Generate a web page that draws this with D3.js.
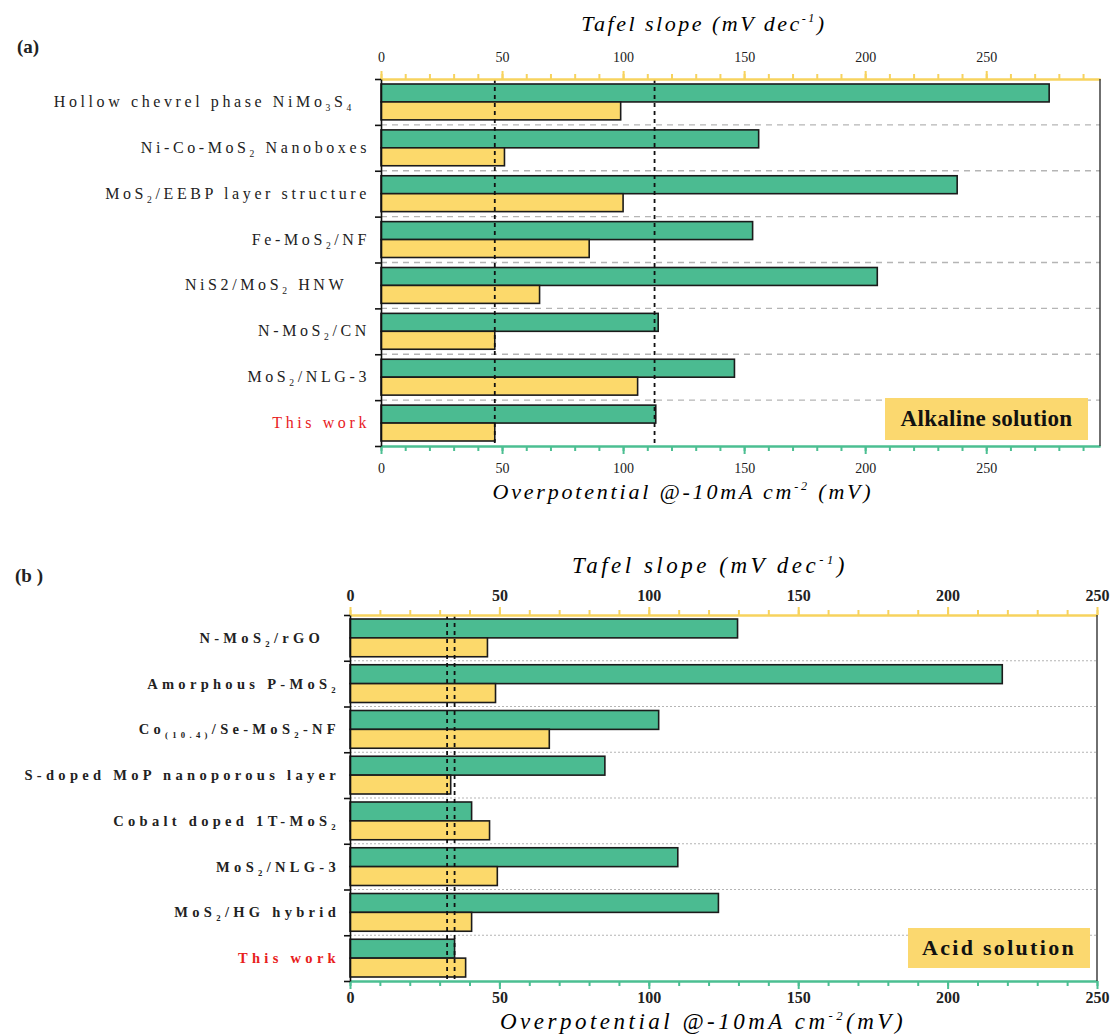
<!DOCTYPE html>
<html><head><meta charset="utf-8">
<script src="https://cdn.jsdelivr.net/npm/d3@7"></script>
<style>body{margin:0;background:#fff} svg{display:block}</style>
</head><body><svg id="c" width="1116" height="1034"></svg>
<script>
// ---------- data ----------
const categoriesA = [
  "Hollow chevrel phase NiMo_{3}S_{4}\u00a0\u00a0",
  "Ni-Co-MoS_{2} Nanoboxes",
  "MoS_{2}/EEBP layer structure",
  "Fe-MoS_{2}/NF",
  "NiS2/MoS_{2} HNW\u00a0\u00a0\u00a0",
  "N-MoS_{2}/CN",
  "MoS_{2}/NLG-3",
  "This work"
];
const tafelA = [276, 156, 238, 153.5, 205, 114.5, 146, 113.5];
const overA  = [99, 51, 100, 86, 65.5, 47, 106, 47];
const refLinesA = [47, 113];

const categoriesB = [
  "N-MoS_{2}/rGO\u00a0\u00a0",
  "Amorphous P-MoS_{2}",
  "Co_{(10.4)}/Se-MoS_{2}-NF",
  "S-doped MoP nanoporous layer",
  "Cobalt doped 1T-MoS_{2}",
  "MoS_{2}/NLG-3",
  "MoS_{2}/HG hybrid",
  "This work"
];
const tafelB = [129.7, 218.3, 103.3, 85.3, 40.7, 109.7, 123.3, 35];
const overB  = [46, 48.7, 66.7, 33.7, 46.7, 49.3, 40.7, 38.7];
const refLinesB = [32.5, 35];

const majorTicksA = [0, 50, 100, 150, 200, 250];
const majorTicksB = [0, 50, 100, 150, 200, 250];
const panelLabels = ["(a)", "(b )"];
const conditionLabels = ["Alkaline solution", "Acid solution"];
const topTitle = ["Tafel slope (mV dec", "-1", ")"];
const bottomTitleA = ["Overpotential @-10mA cm", "-2", " (mV)"];
const bottomTitleB = ["Overpotential @-10mA cm", "-2", "(mV)"];

// ---------- style / layout ----------
const FONT = "Liberation Serif";
const GREEN = "#4bbb91", YELLOW = "#fcd96b", GREEN_AX = "#4cbf92", YELLOW_AX = "#f7d35e";
const svg = d3.select("#c");

function richText(sel, str, subSize) {
  const parts = str.split(/_\{([^}]*)\}/);
  let pendingDy = 0;
  parts.forEach((p, i) => {
    if (!p) return;
    if (i % 2 === 1) {
      sel.append("tspan").attr("font-size", subSize).attr("dy", 4 + pendingDy).text(p);
      pendingDy = -4;
    } else {
      const t = sel.append("tspan").text(p);
      if (pendingDy) t.attr("dy", pendingDy);
      pendingDy = 0;
    }
  });
}

function panel(cfg) {
  const g = svg.append("g");
  const x = d3.scaleLinear().domain([0, cfg.max]).range([cfg.x0, cfg.x1]);
  const y = d3.scaleBand().domain(cfg.cats).range([cfg.y0, cfg.y1]);
  const bw = y.bandwidth();
  const pad = cfg.pad, bh = (bw - 2 * pad) / 2;
  const minor = d3.range(0, cfg.max + 0.01, 10);

  g.selectAll(".sep").data(cfg.cats.slice(1)).join("line")
    .attr("x1", cfg.x0).attr("x2", cfg.x1)
    .attr("y1", d => y(d)).attr("y2", d => y(d))
    .attr("stroke", "#b5b5b5").attr("stroke-width", cfg.sepW).attr("stroke-dasharray", cfg.sepDash);

  g.selectAll(".tb").data(cfg.cats).join("rect")
    .attr("x", x(0)).attr("y", d => y(d) + pad)
    .attr("width", (d, i) => x(cfg.tafel[i]) - x(0)).attr("height", bh)
    .attr("fill", GREEN).attr("stroke", "#1b1b1b").attr("stroke-width", 1.6);
  g.selectAll(".ob").data(cfg.cats).join("rect")
    .attr("x", x(0)).attr("y", d => y(d) + pad + bh)
    .attr("width", (d, i) => x(cfg.over[i]) - x(0)).attr("height", bh)
    .attr("fill", YELLOW).attr("stroke", "#1b1b1b").attr("stroke-width", 1.6);

  g.selectAll(".ref").data(cfg.refs).join("line")
    .attr("x1", d => x(d)).attr("x2", d => x(d))
    .attr("y1", cfg.y0).attr("y2", cfg.y1)
    .attr("stroke", "#111").attr("stroke-width", 1.8).attr("stroke-dasharray", "4,4");

  const topMinor = g.append("g").attr("transform", `translate(0,${cfg.y0})`)
    .call(d3.axisTop(x).tickValues(minor).tickSize(5).tickFormat("").tickSizeOuter(0));
  const topMajor = g.append("g").attr("transform", `translate(0,${cfg.y0})`)
    .call(d3.axisTop(x).tickValues(cfg.major).tickSize(8).tickPadding(cfg.topPad).tickSizeOuter(0));
  [topMinor, topMajor].forEach(a => {
    a.selectAll("path,line").attr("stroke", YELLOW_AX).attr("stroke-width", 2);
    a.attr("font-family", FONT);
  });
  topMajor.selectAll("text").attr("font-size", cfg.tickFs)
    .attr("font-weight", cfg.tickFw).attr("fill", "#222");

  const botMinor = g.append("g").attr("transform", `translate(0,${cfg.y1})`)
    .call(d3.axisBottom(x).tickValues(minor).tickSize(5).tickFormat("").tickSizeOuter(0));
  const botMajor = g.append("g").attr("transform", `translate(0,${cfg.y1})`)
    .call(d3.axisBottom(x).tickValues(cfg.major).tickSize(8).tickPadding(cfg.botPad).tickSizeOuter(0));
  [botMinor, botMajor].forEach(a => {
    a.selectAll("path,line").attr("stroke", GREEN_AX).attr("stroke-width", 2);
    a.attr("font-family", FONT);
  });
  botMajor.selectAll("text").attr("font-size", cfg.tickFs)
    .attr("font-weight", cfg.tickFw).attr("fill", "#222");

  g.append("line").attr("x1", cfg.x1).attr("x2", cfg.x1).attr("y1", cfg.y0).attr("y2", cfg.y1)
    .attr("stroke", "#333").attr("stroke-width", 1.4);

  const left = g.append("g").attr("transform", `translate(${cfg.x0},0)`)
    .call(d3.axisLeft(d3.scaleLinear().domain([0, cfg.cats.length]).range([cfg.y0, cfg.y1]))
      .tickValues(d3.range(0, cfg.cats.length + 1)).tickSize(6).tickFormat("").tickSizeOuter(0));
  left.selectAll("path,line").attr("stroke", "#111").attr("stroke-width", 1.6);

  cfg.cats.forEach((c, i) => {
    const t = g.append("text").attr("x", cfg.labelX).attr("y", y(c) + bw / 2 + 5)
      .attr("text-anchor", "end").attr("font-family", FONT)
      .attr("font-size", cfg.labFs).attr("font-weight", cfg.labFw)
      .attr("letter-spacing", cfg.labLs)
      .attr("fill", c === "This work" ? "#e8201c" : "#222");
    richText(t, c, cfg.labFs * 0.6);
  });

  function title(parts, cx, by, ls, fs) {
    const t = g.append("text").attr("x", cx).attr("y", by).attr("text-anchor", "middle")
      .attr("font-family", FONT).attr("font-style", "italic")
      .attr("font-size", fs).attr("letter-spacing", ls).attr("fill", "#000");
    t.append("tspan").text(parts[0]);
    t.append("tspan").attr("font-size", fs * 0.55).attr("dy", -9).text(parts[1]);
    t.append("tspan").attr("dy", 9).text(parts[2]);
  }
  title(topTitle, cfg.topTitleX, cfg.topTitleY, cfg.titleLs, cfg.titleFs);
  title(cfg.botTitle, cfg.botTitleX, cfg.botTitleY, cfg.botTitleLs, cfg.titleFs);

  g.append("text").attr("x", cfg.plX).attr("y", cfg.plY).attr("font-family", FONT)
    .attr("font-weight", "bold").attr("font-size", 19).attr("fill", "#222").text(cfg.panelLabel);

  const b = cfg.box;
  g.append("rect").attr("x", b[0]).attr("y", b[1]).attr("width", b[2]).attr("height", b[3])
    .attr("fill", "#fbd86f");
  g.append("text").attr("x", b[0] + b[2] / 2).attr("y", b[1] + b[3] / 2 + 7)
    .attr("text-anchor", "middle").attr("font-family", FONT)
    .attr("font-weight", "bold").attr("font-size", cfg.boxFs).attr("letter-spacing", cfg.boxLs)
    .attr("fill", "#111").text(cfg.condition);
}

panel({
  cats: categoriesA, tafel: tafelA, over: overA, refs: refLinesA, major: majorTicksA,
  max: 297, x0: 381, x1: 1100, y0: 79, y1: 446, pad: 5,
  sepDash: "6,5", sepW: 1.3, topPad: 9, botPad: 9, tickFs: 14, tickFw: "normal",
  labelX: 370, labFs: 16, labFw: "normal", labLs: 3.6,
  topTitleX: 704, topTitleY: 31, botTitleX: 683, botTitleY: 499, titleLs: 2.5, botTitleLs: 2.8, titleFs: 22,
  botTitle: bottomTitleA,
  panelLabel: panelLabels[0], plX: 17, plY: 53,
  box: [885, 398, 203, 42], condition: conditionLabels[0], boxFs: 23, boxLs: 0.3
});
panel({
  cats: categoriesB, tafel: tafelB, over: overB, refs: refLinesB, major: majorTicksB,
  max: 250, x0: 350, x1: 1097, y0: 615, y1: 981, pad: 4,
  sepDash: "2,2", sepW: 1.2, topPad: 6, botPad: 3, tickFs: 16, tickFw: "bold",
  labelX: 340, labFs: 14.5, labFw: "bold", labLs: 4.3,
  topTitleX: 710, topTitleY: 573, botTitleX: 703, botTitleY: 1029, titleLs: 3.5, botTitleLs: 3.5, titleFs: 23,
  botTitle: bottomTitleB,
  panelLabel: panelLabels[1], plX: 15, plY: 582,
  box: [908, 928, 182, 40], condition: conditionLabels[1], boxFs: 22, boxLs: 2.3
});
</script></body></html>
